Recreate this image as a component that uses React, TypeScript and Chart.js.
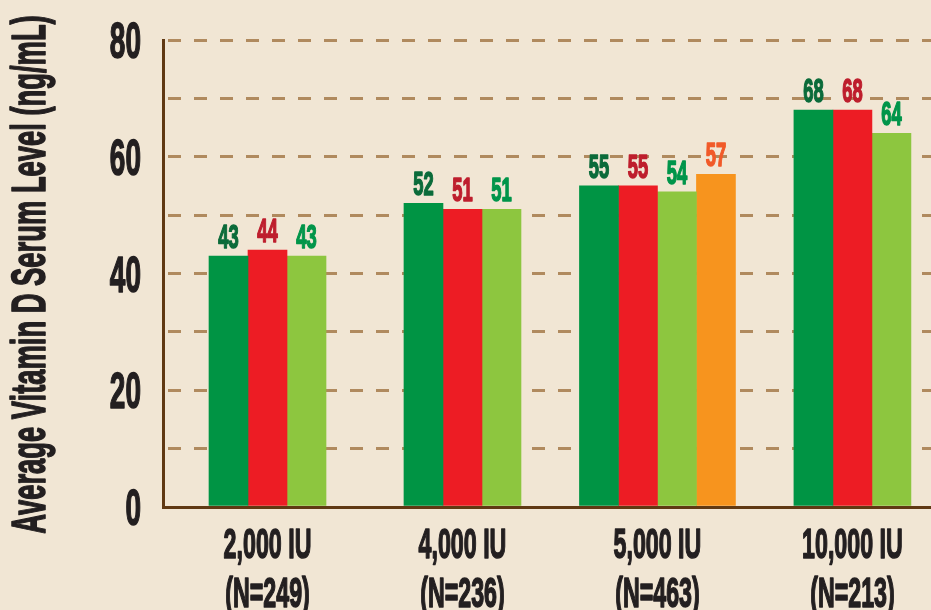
import React, { useEffect, useRef } from "react";
import { Chart, registerables } from "chart.js";

Chart.register(...registerables);

// ---- data ----
const categories = ["2,000 IU", "4,000 IU", "5,000 IU", "10,000 IU"];
const sampleSizes = ["(N=249)", "(N=236)", "(N=463)", "(N=213)"];
const seriesDarkGreen = [43, 52, 55, 68];
const seriesRed = [44, 51, 55, 68];
const seriesLightGreen = [43, 51, 54, 64];
const seriesOrange: (number | null)[] = [null, null, 57, null];
const yTickLabels = [0, 20, 40, 60, 80];
const yTitle = "Average Vitamin D Serum Level (ng/mL)";

// ---- styles ----
const BG = "#f1e6d4";
const INK = "#231f20";
const AXIS = "#603913";
const GRID = "#b08a5e";
const FONT = '"Liberation Sans", Arial, sans-serif';

const seriesDefs = [
  { label: "Series 1", values: seriesDarkGreen, color: "#009444", text: "#0b6b3a" },
  { label: "Series 2", values: seriesRed, color: "#ed1c24", text: "#be1e2d" },
  { label: "Series 3", values: seriesLightGreen, color: "#8dc63f", text: "#00954a" },
  { label: "Series 4", values: seriesOrange, color: "#f7941e", text: "#f15a29" },
];

function drawText(
  ctx: CanvasRenderingContext2D,
  text: string,
  x: number,
  y: number,
  size: number,
  squeeze: number,
  color: string,
  align: CanvasTextAlign,
  rotation = 0
) {
  ctx.save();
  ctx.translate(x, y);
  if (rotation) ctx.rotate(rotation);
  ctx.scale(squeeze, 1);
  ctx.font = `bold ${size}px ${FONT}`;
  ctx.fillStyle = color;
  ctx.strokeStyle = color;
  ctx.lineWidth = 1.6;
  ctx.lineJoin = "round";
  ctx.textAlign = align;
  ctx.textBaseline = "alphabetic";
  ctx.fillText(text, 0, 0);
  ctx.strokeText(text, 0, 0);
  ctx.restore();
}

const textPlugin = {
  id: "condensedText",
  afterDatasetsDraw(chart: any) {
    const ctx = chart.ctx as CanvasRenderingContext2D;
    seriesDefs.forEach((s, di) => {
      const meta = chart.getDatasetMeta(di);
      meta.data.forEach((el: any, j: number) => {
        const v = s.values[j];
        if (v == null) return;
        drawText(ctx, String(v), el.x, el.y - 8, 34, 0.54, s.text, "center");
      });
    });
  },
  afterDraw(chart: any) {
    const ctx = chart.ctx as CanvasRenderingContext2D;
    const { x, y } = chart.scales;
    const area = chart.chartArea;
    yTickLabels.forEach((v) => {
      drawText(ctx, String(v), area.left - 22, y.getPixelForValue(v) + 18, 50, 0.56, INK, "right");
    });
    categories.forEach((c, i) => {
      const px = x.getPixelForValue(i);
      drawText(ctx, c, px, area.bottom + 51, 43, 0.54, INK, "center");
      drawText(ctx, sampleSizes[i], px, area.bottom + 100, 43, 0.54, INK, "center");
    });
    drawText(ctx, yTitle, 45, (area.top + area.bottom) / 2 + 1, 48, 0.57, INK, "center", -Math.PI / 2);
  },
};

export default function App() {
  const ref = useRef<HTMLCanvasElement | null>(null);

  useEffect(() => {
    document.body.style.margin = "0";
    const canvas = ref.current;
    if (!canvas) return;
    const chart = new Chart(canvas, {
      type: "bar",
      data: {
        datasets: seriesDefs.map((s) => ({
          label: s.label,
          data: s.values.map((v, i) => ({ x: i, y: v })) as any,
          backgroundColor: s.color,
          borderWidth: 0,
          barThickness: 39,
          skipNull: true,
        })),
      },
      options: {
        animation: false,
        responsive: false,
        maintainAspectRatio: false,
        layout: { padding: { top: 40, left: 0, right: 0, bottom: 0 } },
        plugins: {
          legend: { display: false },
          tooltip: { enabled: false },
        },
        scales: {
          x: {
            type: "linear",
            offset: false,
            min: -0.536,
            max: 3.403,
            ticks: { display: false },
            grid: { display: false, offset: false },
            border: { display: true, color: AXIS, width: 3 },
            afterFit: (s: any) => {
              s.height = 103;
            },
          },
          y: {
            min: 0,
            max: 80,
            ticks: { display: false, stepSize: 10 },
            grid: { color: GRID, lineWidth: 3, drawTicks: false },
            border: { display: true, color: AXIS, width: 3, dash: [13, 13], dashOffset: 23 },
            afterFit: (s: any) => {
              s.width = 163;
            },
          },
        },
      } as any,
      plugins: [textPlugin],
    });
    return () => chart.destroy();
  }, []);

  return (
    <div
      style={{
        position: "fixed",
        left: 0,
        top: 0,
        width: 931,
        height: 610,
        background: BG,
        overflow: "hidden",
      }}
    >
      <canvas ref={ref} width={931} height={610} style={{ display: "block", width: 931, height: 610 }} />
    </div>
  );
}
